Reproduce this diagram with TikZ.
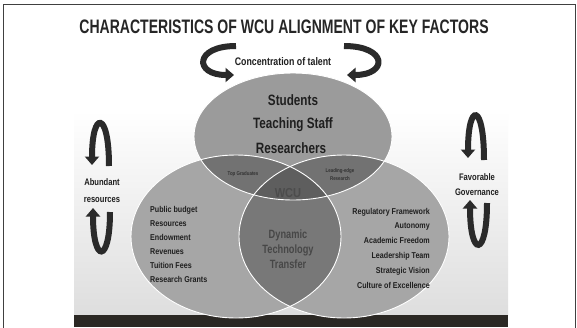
\documentclass[tikz,border=0pt]{standalone}
\usepackage{fontspec}
\setmainfont{Liberation Sans}
\usetikzlibrary{arrows.meta}
\newcommand{\cnd}[2][0.8]{\scalebox{#1}[1]{#2}}
\definecolor{topfill}{HTML}{9B9B9B}
\definecolor{sidefill}{HTML}{A6A6A6}
\definecolor{lensts}{HTML}{727272}
\definecolor{lenslr}{HTML}{787878}
\definecolor{corefill}{HTML}{5E5E5E}
\definecolor{barfill}{HTML}{2B2824}
\definecolor{arrowcol}{HTML}{2A2A2A}
\begin{document}
\begin{tikzpicture}[x=1pt,y=-1pt,
  txt/.style={inner sep=0pt, anchor=base, text=black!88},
  bigarrow/.style={line width=6pt, draw=arrowcol, -{Triangle[width=14pt,length=8.5pt]}},
  outline/.style={draw=white, line width=0.9pt}]
\useasboundingbox (0,0) rectangle (577,327);
\fill[white] (0,0) rectangle (577,327);
% background panel
\shade[top color=white, bottom color=black!13] (74,110) rectangle (508,315);
\fill[barfill] (74,315) rectangle (508,327);
% frame
\draw[black!75, line width=0.8pt] (3,4) rectangle (575,332);

\def\topE{(293,136.5) ellipse [x radius=99, y radius=63.5]}
\def\leftE{(236,236.5) ellipse [x radius=105, y radius=81.5]}
\def\rightE{(344,236.5) ellipse [x radius=105, y radius=81.5]}

\fill[sidefill] \leftE;
\fill[sidefill] \rightE;
\fill[topfill] \topE;
\begin{scope}\clip \topE; \fill[lensts] \leftE; \fill[lensts] \rightE; \end{scope}
\begin{scope}\clip \leftE; \fill[lenslr] \rightE; \end{scope}
\begin{scope}\clip \topE; \clip \leftE; \fill[corefill] \rightE; \end{scope}
\draw[outline] \leftE;
\draw[outline] \rightE;
\draw[outline] \topE;

% title
\node[txt, font=\fontsize{19.5}{20}\selectfont\bfseries, text=black!85] (title) at (284,33) {\cnd[0.72]{CHARACTERISTICS OF WCU ALIGNMENT OF KEY FACTORS}};
\node[txt, font=\fontsize{11}{12}\selectfont\bfseries] (talent) at (283,65.5) {\cnd[0.8]{Concentration of talent}};

% top ellipse
\node[txt, font=\fontsize{15}{16}\selectfont\bfseries] (stu) at (293,105.5) {\cnd[0.78]{Students}};
\node[txt, font=\fontsize{15}{16}\selectfont\bfseries] (tea) at (293,128.5) {\cnd[0.78]{Teaching Staff}};
\node[txt, font=\fontsize{15}{16}\selectfont\bfseries] (res) at (291,153.5) {\cnd[0.78]{Researchers}};

% lens labels
\node[txt, font=\fontsize{5.5}{6}\selectfont\bfseries, text=black!80] (topgrad) at (243,175) {\cnd[0.8]{Top Graduates}};
\node[txt, font=\fontsize{5.5}{6}\selectfont\bfseries, text=black!80] (lead) at (340,172) {\cnd[0.8]{Leading-edge}};
\node[txt, font=\fontsize{5.5}{6}\selectfont\bfseries, text=black!80] (leadres) at (340,180) {\cnd[0.8]{Research}};
\node[txt, font=\fontsize{13}{14}\selectfont\bfseries, text=black!70] (wcu) at (288,197) {\cnd[0.85]{WCU}};
\node[txt, font=\fontsize{12}{13}\selectfont\bfseries, text=black!72] (dyn) at (288,238) {\cnd[0.77]{Dynamic}};
\node[txt, font=\fontsize{12}{13}\selectfont\bfseries, text=black!72] (tech) at (288,253) {\cnd[0.77]{Technology}};
\node[txt, font=\fontsize{12}{13}\selectfont\bfseries, text=black!72] (trans) at (288,268) {\cnd[0.77]{Transfer}};

% left list
\foreach \t [count=\i from 0] in {Public budget,Resources,Endowment,Revenues,Tuition Fees,Research Grants}
  \node[txt, anchor=base west, font=\fontsize{8.5}{9}\selectfont\bfseries] (l\i) at (150,212+14*\i) {\cnd[0.84]{\t}};
% right list
\foreach \t [count=\i from 0] in {Regulatory Framework,Autonomy,Academic Freedom,Leadership Team,Strategic Vision,Culture of Excellence}
  \node[txt, anchor=base east, font=\fontsize{8.5}{9}\selectfont\bfseries] (r\i) at (430,214+14.8*\i) {\cnd[0.84]{\t}};

% side labels
\node[txt, font=\fontsize{9.5}{10}\selectfont\bfseries] (abund) at (102,185) {\cnd[0.8]{Abundant}};
\node[txt, font=\fontsize{9.5}{10}\selectfont\bfseries] (resrc) at (102,202) {\cnd[0.8]{resources}};
\node[txt, font=\fontsize{9.5}{10}\selectfont\bfseries] (fav) at (477,180) {\cnd[0.8]{Favorable}};
\node[txt, font=\fontsize{9.5}{10}\selectfont\bfseries] (gov) at (477,195) {\cnd[0.8]{Governance}};

% top curved arrows
\coordinate (ta1) at (236,46); \coordinate (ta2) at (234,75);
\coordinate (tb1) at (344,46); \coordinate (tb2) at (347,75);
\draw[bigarrow] (ta1) .. controls (194,46) and (194,75) .. (ta2);
\draw[bigarrow] (tb1) .. controls (388,46) and (388,75) .. (tb2);

% side arrows
\coordinate (la1) at (109,166); \coordinate (la2) at (92,165);
\coordinate (lb1) at (110,212); \coordinate (lb2) at (93,208);
\draw[bigarrow] (la1) .. controls (109,110) and (92,110) .. (la2);
\draw[bigarrow] (lb1) .. controls (110,264) and (93,264) .. (lb2);
\coordinate (ra1) at (484,160); \coordinate (ra2) at (468,158);
\coordinate (rb1) at (487,203); \coordinate (rb2) at (470,200);
\draw[bigarrow] (ra1) .. controls (484,102) and (468,102) .. (ra2);
\draw[bigarrow] (rb1) .. controls (487,258) and (470,258) .. (rb2);
\end{tikzpicture}
\end{document}
